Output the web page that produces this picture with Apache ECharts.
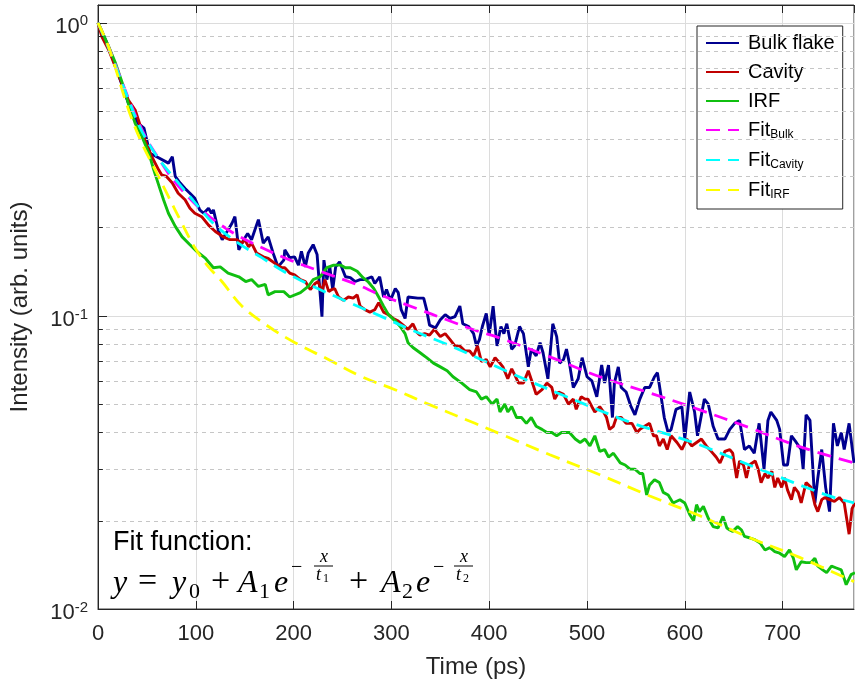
<!DOCTYPE html>
<html>
<head>
<meta charset="utf-8">
<script src="https://cdn.jsdelivr.net/npm/echarts@6/dist/echarts.min.js"></script>
<style>
  html, body { margin: 0; padding: 0; background: #fff; }
  #chart { width: 855px; height: 685px; }
</style>
</head>
<body>
<div id="chart"></div>
<script>
// measured traces (time in ps, normalised intensity)
const bulkT = [0, 11, 31, 41, 43, 47, 53, 60, 72, 76, 79, 84, 89, 94, 99, 104, 108, 113, 116, 118, 123, 127, 132, 137, 140, 144, 149, 153, 157, 164, 169, 174, 179, 184, 190, 191, 196, 201, 205, 208, 212, 215, 220, 224, 226, 229, 231, 234, 237, 240, 243, 247, 253, 258, 263, 268, 273, 280, 283, 288, 292, 295, 299, 304, 307, 310, 314, 317, 327, 333, 336, 339, 345, 350, 355, 360, 365, 370, 373, 379, 384, 387, 390, 393, 397, 400, 404, 408, 412, 415, 418, 423, 426, 431, 435, 440, 443, 448, 452, 455, 460, 465, 469, 472, 476, 479, 482, 486, 491, 495, 500, 505, 510, 515, 518, 522, 526, 528, 532, 535, 540, 545, 549, 554, 559, 564, 569, 572, 574, 579, 583, 586, 591, 597, 600, 605, 610, 613, 620, 624, 629, 634, 641, 646, 651, 656, 661, 666, 671, 676, 681, 685, 688, 694, 697, 701, 705, 709, 714, 719, 721, 724, 728, 733, 736, 740, 744, 748, 752, 756, 760, 763, 768, 773];
const bulkV = [1, 0.826, 0.532, 0.454, 0.456, 0.437, 0.359, 0.349, 0.332, 0.349, 0.299, 0.284, 0.272, 0.262, 0.252, 0.230, 0.224, 0.233, 0.224, 0.230, 0.196, 0.182, 0.194, 0.207, 0.218, 0.168, 0.182, 0.191, 0.182, 0.213, 0.177, 0.186, 0.164, 0.147, 0.155, 0.168, 0.158, 0.159, 0.149, 0.166, 0.147, 0.164, 0.175, 0.162, 0.133, 0.0994, 0.155, 0.133, 0.147, 0.123, 0.147, 0.153, 0.136, 0.135, 0.131, 0.133, 0.133, 0.136, 0.129, 0.136, 0.116, 0.123, 0.113, 0.124, 0.120, 0.105, 0.098, 0.116, 0.115, 0.115, 0.105, 0.093, 0.091, 0.097, 0.101, 0.098, 0.0995, 0.108, 0.094, 0.092, 0.087, 0.079, 0.083, 0.092, 0.102, 0.086, 0.108, 0.079, 0.092, 0.087, 0.094, 0.077, 0.079, 0.092, 0.087, 0.067, 0.077, 0.073, 0.081, 0.075, 0.061, 0.094, 0.085, 0.069, 0.071, 0.077, 0.069, 0.057, 0.061, 0.072, 0.062, 0.060, 0.053, 0.068, 0.059, 0.068, 0.045, 0.059, 0.067, 0.057, 0.055, 0.049, 0.046, 0.052, 0.057, 0.057, 0.062, 0.064, 0.058, 0.045, 0.040, 0.041, 0.048, 0.049, 0.038, 0.055, 0.047, 0.039, 0.052, 0.050, 0.042, 0.038, 0.038, 0.041, 0.043, 0.044, 0.035, 0.036, 0.034, 0.043, 0.030, 0.044, 0.047, 0.044, 0.041, 0.031, 0.031, 0.039, 0.037, 0.035, 0.030, 0.046, 0.044, 0.023, 0.028, 0.035, 0.026, 0.0215, 0.043, 0.036, 0.040, 0.035, 0.043, 0.0315];

const cavT = [0, 4, 11, 31, 38, 48, 55, 62, 65, 70, 76, 82, 89, 94, 99, 106, 113, 120, 128, 135, 142, 147, 150, 154, 157, 162, 169, 174, 181, 188, 191, 196, 201, 207, 212, 217, 222, 225, 229, 232, 236, 239, 242, 246, 251, 256, 261, 265, 268, 273, 278, 283, 287, 292, 297, 302, 307, 312, 317, 322, 326, 329, 334, 339, 344, 350, 355, 360, 365, 370, 375, 380, 384, 388, 392, 397, 401, 406, 411, 414, 419, 423, 426, 430, 435, 440, 445, 448, 454, 459, 464, 467, 471, 476, 481, 486, 489, 494, 498, 501, 505, 508, 513, 517, 520, 523, 527, 530, 535, 540, 546, 551, 554, 559, 564, 568, 571, 574, 578, 582, 586, 592, 597, 602, 607, 612, 617, 622, 627, 632, 636, 641, 646, 649, 653, 656, 660, 663, 666, 672, 675, 678, 682, 685, 689, 692, 695, 699, 702, 705, 709, 712, 716, 719, 724, 729, 733, 736, 740, 743, 748, 753, 758, 763, 768, 771, 774];
const cavV = [1, 0.896, 0.807, 0.545, 0.504, 0.398, 0.349, 0.315, 0.303, 0.299, 0.284, 0.262, 0.249, 0.233, 0.224, 0.218, 0.204, 0.194, 0.186, 0.182, 0.182, 0.177, 0.182, 0.172, 0.177, 0.164, 0.159, 0.157, 0.151, 0.146, 0.146, 0.140, 0.138, 0.133, 0.131, 0.123, 0.129, 0.131, 0.121, 0.133, 0.121, 0.123, 0.124, 0.116, 0.113, 0.116, 0.115, 0.118, 0.108, 0.105, 0.103, 0.105, 0.111, 0.103, 0.101, 0.098, 0.096, 0.093, 0.090, 0.094, 0.088, 0.086, 0.087, 0.086, 0.090, 0.085, 0.087, 0.083, 0.079, 0.079, 0.076, 0.076, 0.073, 0.079, 0.070, 0.071, 0.067, 0.072, 0.069, 0.067, 0.061, 0.066, 0.063, 0.059, 0.059, 0.065, 0.058, 0.054, 0.056, 0.059, 0.057, 0.052, 0.055, 0.054, 0.050, 0.052, 0.048, 0.053, 0.052, 0.052, 0.049, 0.047, 0.049, 0.047, 0.045, 0.041, 0.042, 0.045, 0.045, 0.043, 0.043, 0.040, 0.041, 0.042, 0.043, 0.039, 0.039, 0.036, 0.038, 0.035, 0.039, 0.037, 0.035, 0.038, 0.036, 0.037, 0.038, 0.036, 0.0345, 0.033, 0.0315, 0.0345, 0.035, 0.034, 0.028, 0.032, 0.031, 0.028, 0.031, 0.032, 0.030, 0.027, 0.029, 0.028, 0.0295, 0.026, 0.028, 0.026, 0.028, 0.0255, 0.0236, 0.026, 0.025, 0.023, 0.027, 0.026, 0.0227, 0.0215, 0.0236, 0.024, 0.0236, 0.0233, 0.024, 0.023, 0.018, 0.022, 0.023];

const irfT = [0, 2, 11, 18, 25, 31, 38, 45, 52, 57, 62, 67, 72, 79, 86, 94, 101, 110, 118, 125, 133, 144, 151, 157, 164, 171, 174, 181, 190, 196, 207, 215, 220, 227, 234, 241, 248, 253, 258, 265, 271, 276, 282, 287, 292, 297, 304, 309, 314, 317, 322, 329, 336, 343, 350, 357, 363, 372, 380, 387, 392, 397, 403, 408, 411, 416, 419, 423, 428, 433, 438, 443, 448, 454, 459, 464, 469, 474, 479, 482, 488, 493, 498, 503, 508, 513, 518, 522, 527, 534, 539, 544, 549, 554, 557, 561, 564, 569, 574, 578, 583, 588, 595, 600, 605, 609, 612, 615, 619, 624, 629, 634, 639, 643, 646, 649, 654, 658, 661, 666, 672, 677, 682, 687, 692, 697, 702, 707, 711, 714, 719, 724, 729, 733, 736, 741, 745, 750, 755, 760, 765, 770, 774];
const irfV = [1, 0.969, 0.828, 0.727, 0.621, 0.531, 0.454, 0.409, 0.359, 0.315, 0.280, 0.249, 0.224, 0.202, 0.186, 0.175, 0.166, 0.157, 0.146, 0.147, 0.140, 0.136, 0.131, 0.133, 0.126, 0.128, 0.118, 0.121, 0.121, 0.116, 0.120, 0.126, 0.133, 0.136, 0.146, 0.149, 0.149, 0.146, 0.146, 0.142, 0.135, 0.131, 0.124, 0.116, 0.108, 0.101, 0.096, 0.092, 0.087, 0.081, 0.078, 0.075, 0.072, 0.069, 0.067, 0.065, 0.062, 0.059, 0.056, 0.055, 0.052, 0.053, 0.050, 0.052, 0.047, 0.050, 0.047, 0.049, 0.045, 0.045, 0.043, 0.045, 0.042, 0.041, 0.040, 0.040, 0.039, 0.040, 0.040, 0.040, 0.038, 0.037, 0.038, 0.036, 0.039, 0.0345, 0.035, 0.033, 0.034, 0.0315, 0.031, 0.030, 0.030, 0.029, 0.029, 0.0245, 0.0265, 0.0276, 0.027, 0.025, 0.0245, 0.023, 0.0236, 0.023, 0.021, 0.020, 0.0227, 0.0215, 0.0224, 0.0204, 0.0191, 0.0189, 0.0207, 0.0189, 0.0186, 0.0184, 0.0191, 0.0186, 0.0177, 0.0175, 0.0172, 0.0168, 0.0159, 0.0162, 0.0157, 0.0155, 0.0151, 0.0159, 0.0149, 0.0136, 0.0145, 0.0144, 0.0144, 0.0149, 0.014, 0.0136, 0.0133, 0.014, 0.0138, 0.0136, 0.0121, 0.0131, 0.0133];

// biexponential fits
const fitBulkT = [0, 10.5, 20.7, 31, 41.2, 51.4, 61.6, 73.9, 89.2, 104.5, 119.8, 140.3, 165.8, 196.4, 227.1, 264.6, 288.4, 325.9, 356.5, 387.1, 411, 462, 513.1, 564.2, 615.3, 666.4, 717.4, 773];
const fitBulkV = [1, 0.833, 0.679, 0.554, 0.459, 0.392, 0.346, 0.300, 0.261, 0.232, 0.211, 0.190, 0.172, 0.155, 0.142, 0.128, 0.118, 0.106, 0.097, 0.089, 0.084, 0.0725, 0.062, 0.0546, 0.0478, 0.0415, 0.0358, 0.0315];
const fitCavT = [0, 10.5, 20.7, 31.3, 41.2, 51.7, 65.4, 82.3, 99.4, 116.5, 140.3, 167.5, 191.3, 220.2, 254.3, 288.4, 322.4, 356.5, 383.7, 421.2, 479.1, 547.1, 608.4, 676.5, 744.7, 773];
const fitCavV = [1, 0.826, 0.674, 0.545, 0.452, 0.388, 0.332, 0.284, 0.243, 0.209, 0.180, 0.158, 0.141, 0.126, 0.112, 0.100, 0.089, 0.080, 0.073, 0.064, 0.053, 0.043, 0.037, 0.030, 0.0245, 0.023];
const fitIrfT = [0, 10.8, 31.3, 44.9, 58.5, 72.1, 85.8, 99.4, 113, 126.7, 147.1, 174.3, 201.5, 235.6, 269.7, 303.7, 337.7, 385.4, 411, 462, 513.1, 564.2, 615.3, 666.4, 717.4, 773];
const fitIrfV = [1, 0.828, 0.504, 0.388, 0.315, 0.255, 0.207, 0.170, 0.147, 0.131, 0.108, 0.092, 0.081, 0.071, 0.062, 0.056, 0.050, 0.043, 0.0396, 0.0336, 0.0287, 0.0243, 0.0208, 0.0175, 0.015, 0.0124];

// minor log gridlines
const minorVals = [0.02, 0.03, 0.04, 0.05, 0.06, 0.07, 0.08, 0.09, 0.2, 0.3, 0.4, 0.5, 0.6, 0.7, 0.8, 0.9];

const FONT = '"Liberation Sans", Arial, sans-serif';
const SERIF = '"Liberation Serif", "DejaVu Serif", serif';
const AX = '#262626';

const chart = echarts.init(document.getElementById('chart'), null, { renderer: 'canvas' });

const pairs = (t, v) => t.map((x, i) => [x, v[i]]);
const trace = (name, t, v, color, dashed) => ({
  name,
  type: 'line',
  data: pairs(t, v),
  symbol: 'none',
  showSymbol: false,
  smooth: dashed ? 0.35 : false,
  z: dashed ? 4 : 3,
  lineStyle: { color, width: dashed ? 2.8 : 2.9, type: dashed ? [14, 8] : 'solid' },
  itemStyle: { color },
  emphasis: { disabled: true }
});

// formula pieces: [text, x, y, size, italic, align]
const eq = [
  ['y', 113, 584, 32, true],
  ['=', 138, 582, 34, false],
  ['y', 172, 584, 32, true],
  ['0', 189, 592, 22, false],
  ['+', 211, 582, 34, false],
  ['A', 238, 584, 32, true],
  ['1', 259, 592, 22, false],
  ['e', 274, 584, 32, true],
  ['\u2212', 291, 568, 20, false],
  ['x', 324, 557, 18, true, 'center'],
  ['+', 349, 582, 34, false],
  ['A', 381, 584, 32, true],
  ['2', 402, 592, 22, false],
  ['e', 416, 584, 32, true],
  ['\u2212', 433, 568, 20, false],
  ['x', 464, 557, 18, true, 'center']
];
const fracDen = [['1', 323], ['2', 463]];

const graphic = [
  {
    type: 'text', x: 113, y: 543, z: 10,
    style: { text: 'Fit function:', fontSize: 27, fontFamily: FONT, fill: '#000',
      verticalAlign: 'middle', textVerticalAlign: 'middle' }
  }
];
eq.forEach(([s, x, y, size, it, al]) => {
  graphic.push({
    type: 'text', x, y, z: 10,
    style: { text: s, fontSize: size, fontFamily: SERIF, fontStyle: it ? 'italic' : 'normal', fill: '#000',
      align: al || 'left', textAlign: al || 'left', verticalAlign: 'middle', textVerticalAlign: 'middle' }
  });
});
fracDen.forEach(([sub, cx]) => {
  graphic.push({
    type: 'line', z: 10,
    shape: { x1: cx - 9, y1: 566, x2: cx + 10, y2: 566 },
    style: { stroke: '#000', lineWidth: 1 }
  });
  graphic.push({
    type: 'text', x: cx - 7, y: 575, z: 10,
    style: { text: 't', fontSize: 18, fontFamily: SERIF, fontStyle: 'italic', fill: '#000',
      verticalAlign: 'middle', textVerticalAlign: 'middle' }
  });
  graphic.push({
    type: 'text', x: cx, y: 579, z: 10,
    style: { text: sub, fontSize: 12, fontFamily: SERIF, fill: '#000',
      verticalAlign: 'middle', textVerticalAlign: 'middle' }
  });
});

const option = {
  animation: false,
  backgroundColor: '#fff',
  textStyle: { fontFamily: FONT },
  grid: { left: 98, right: 1, top: 5, bottom: 76, show: true, borderColor: '#404040', borderWidth: 1, containLabel: false },
  legend: {
    data: ['Bulk flake', 'Cavity', 'IRF', 'FitBulk', 'FitCavity', 'FitIRF'],
    orient: 'vertical',
    left: 697,
    top: 26,
    padding: [7, 8, 8, 8],
    itemGap: 9,
    itemWidth: 33,
    itemHeight: 14,
    itemStyle: { opacity: 0, borderWidth: 0 },
    backgroundColor: '#fff',
    borderColor: AX,
    borderWidth: 1,
    borderRadius: 0,
    selectedMode: false,
    formatter: name => name.startsWith('Fit') ? '{m|Fit}{s|' + name.slice(3) + '}' : '{m|' + name + '}',
    textStyle: {
      color: '#000',
      fontFamily: FONT,
      fontSize: 20,
      padding: [0, 0, 0, 4],
      rich: {
        m: { fontSize: 20, lineHeight: 22, fontFamily: FONT, color: '#000' },
        s: { fontSize: 12, lineHeight: 6, verticalAlign: 'bottom', fontFamily: FONT, color: '#000' }
      }
    }
  },
  xAxis: [
    {
      type: 'value', min: 0, max: 773, interval: 100,
      name: 'Time (ps)', nameLocation: 'middle', nameGap: 46,
      nameTextStyle: { fontSize: 24, color: AX, fontFamily: FONT },
      axisLine: { show: true, lineStyle: { color: AX, width: 1 } },
      axisTick: { show: true, inside: true, length: 8, lineStyle: { color: AX } },
      axisLabel: { fontSize: 22, color: AX, margin: 14, showMaxLabel: false, fontFamily: FONT },
      splitLine: { show: true, lineStyle: { color: '#dcdcdc', width: 1 } }
    },
    {
      type: 'value', min: 0, max: 773, interval: 100, position: 'top',
      axisLine: { show: true, lineStyle: { color: AX, width: 1 } },
      axisTick: { show: true, inside: true, length: 8, lineStyle: { color: AX } },
      axisLabel: { show: false },
      splitLine: { show: false }
    }
  ],
  yAxis: {
    type: 'log', logBase: 10, min: 0.01, max: 1.15,
    name: 'Intensity (arb. units)', nameLocation: 'middle', nameGap: 66,
    nameTextStyle: { fontSize: 24, color: AX, fontFamily: FONT },
    axisLine: { show: true, lineStyle: { color: AX, width: 1 } },
    axisTick: { show: true, inside: true, length: 9, lineStyle: { color: AX } },
    axisLabel: {
      showMaxLabel: false,
      margin: 10,
      padding: [8, 0, 0, 0],
      formatter: v => '{b|10}{e|' + Math.round(Math.log10(v)) + '}',
      rich: {
        b: { fontSize: 22, lineHeight: 26, color: AX, fontFamily: FONT },
        e: { fontSize: 15, lineHeight: 12, verticalAlign: 'top', color: AX, fontFamily: FONT }
      }
    },
    splitLine: { show: true, lineStyle: { color: '#dcdcdc', width: 1 } }
  },
  graphic,
  series: [
    {
      name: 'minor', type: 'line', data: [], z: 1, silent: true,
      markLine: {
        silent: true, symbol: 'none', animation: false,
        label: { show: false },
        emphasis: { disabled: true },
        lineStyle: { color: '#c6c6c6', type: [4, 4], width: 1 },
        data: minorVals.map(v => ({ yAxis: v }))
      }
    },
    {
      name: 'minorTicks', type: 'line', data: [], z: 2, silent: true,
      markLine: {
        silent: true, symbol: 'none', animation: false,
        label: { show: false },
        emphasis: { disabled: true },
        lineStyle: { color: AX, type: 'solid', width: 1 },
        data: minorVals.map(v => [{ coord: [0, v] }, { coord: [5, v] }])
      }
    },
    trace('Bulk flake', bulkT, bulkV, '#00008f'),
    trace('Cavity', cavT, cavV, '#c00000'),
    trace('IRF', irfT, irfV, '#10bf10'),
    trace('FitBulk', fitBulkT, fitBulkV, '#ff00ff', true),
    trace('FitCavity', fitCavT, fitCavV, '#00ffff', true),
    trace('FitIRF', fitIrfT, fitIrfV, '#ffff00', true)
  ]
};

chart.setOption(option);
window.addEventListener('resize', () => chart.resize());
</script>
</body>
</html>
